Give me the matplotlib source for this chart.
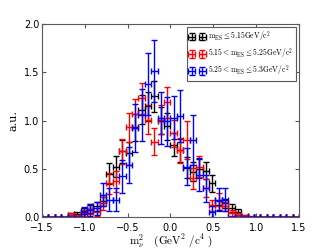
import numpy as np
import matplotlib
matplotlib.use("Agg")
import matplotlib.pyplot as plt

plt.rcParams['mathtext.fontset'] = 'cm'
plt.rcParams['xtick.direction'] = 'in'
plt.rcParams['ytick.direction'] = 'in'

# 40 bins from -1.5 to 1.5
edges = np.linspace(-1.5, 1.5, 41)
centers = 0.5 * (edges[:-1] + edges[1:])
half_width = 0.5 * (edges[1] - edges[0])

# m_ES <= 5.15
black_y = [0, 0, 0, 0, 0.02, 0.03, 0.06, 0.08, 0.11, 0.17,
           0.45, 0.52, 0.68, 0.66, 0.93, 1.11, 1.15, 1.25, 1.00, 0.94,
           0.75, 0.69, 0.51, 0.47, 0.50, 0.48, 0.35, 0.12, 0.14, 0.09,
           0.055, 0.01, 0, 0, 0, 0, 0, 0, 0, 0]
black_err = [0, 0, 0, 0, 0.02, 0.02, 0.03, 0.04, 0.05, 0.06,
             0.11, 0.11, 0.12, 0.12, 0.14, 0.15, 0.15, 0.16, 0.14, 0.14,
             0.12, 0.12, 0.11, 0.10, 0.10, 0.09, 0.09, 0.05, 0.05, 0.04,
             0.03, 0.01, 0, 0, 0, 0, 0, 0, 0, 0]

# 5.15 < m_ES <= 5.25
red_y = [0, 0, 0, 0, 0.02, 0.01, 0.04, 0.08, 0.055, 0.14,
         0.35, 0.37, 0.68, 0.93, 1.07, 1.23, 1.01, 0.78, 1.01, 1.19,
         0.87, 0.69, 0.80, 0.40, 0.52, 0.30, 0.12, 0.18, 0.11, 0.04,
         0.02, 0.015, 0.005, 0, 0, 0, 0, 0, 0, 0]
red_err = [0, 0, 0, 0, 0.02, 0.01, 0.03, 0.05, 0.04, 0.07,
           0.11, 0.11, 0.13, 0.15, 0.15, 0.16, 0.15, 0.14, 0.15, 0.16,
           0.14, 0.13, 0.20, 0.11, 0.11, 0.09, 0.06, 0.07, 0.05, 0.03,
           0.02, 0.01, 0.005, 0, 0, 0, 0, 0, 0, 0]

# 5.25 < m_ES <= 5.3
blue_y = [0, 0, 0, 0, 0, 0, 0.055, 0.07, 0.09, 0.23,
          0.18, 0.18, 0.42, 0.54, 0.92, 1.06, 1.375, 1.51, 1.03, 0.99,
          1.03, 1.05, 0.52, 0.80, 0.44, 0.30, 0.055, 0.18, 0.18, 0,
          0, 0, 0, 0, 0, 0, 0, 0, 0, 0]
blue_err = [0, 0, 0, 0, 0, 0, 0.05, 0.06, 0.07, 0.12,
            0.12, 0.12, 0.17, 0.19, 0.25, 0.27, 0.32, 0.32, 0.27, 0.25,
            0.22, 0.27, 0.19, 0.26, 0.17, 0.14, 0.06, 0.12, 0.12, 0,
            0, 0, 0, 0, 0, 0, 0, 0, 0, 0]

labels = [r'$\mathrm{m_{ES}} \leq 5.15\mathrm{GeV/c^2}$',
          r'$5.15 < \mathrm{m_{ES}} \leq 5.25\mathrm{GeV/c^2}$',
          r'$5.25 < \mathrm{m_{ES}} \leq 5.3\mathrm{GeV/c^2}$']

fig = plt.figure(figsize=(3.32, 2.49), dpi=100)
ax = fig.add_axes([0.1265, 0.1285, 0.7741, 0.7751])

for y, e, c, lab in [(black_y, black_err, 'k', labels[0]),
                     (red_y, red_err, 'r', labels[1]),
                     (blue_y, blue_err, 'b', labels[2])]:
    ax.errorbar(centers, y, yerr=e, xerr=half_width, fmt='none',
                ecolor=c, elinewidth=1, capsize=2, capthick=1, label=lab)

for sp in ax.spines.values():
    sp.set_color('0.35')

ax.set_xlim(-1.5, 1.5)
ax.set_ylim(0, 2.0)
ax.set_xticks(np.arange(-1.5, 1.51, 0.5))
ax.set_yticks(np.arange(0, 2.01, 0.5))
ax.tick_params(labelsize=7, top=True, right=True, length=3, color='0.35')
ax.tick_params(axis='x', pad=4)
ax.tick_params(axis='y', pad=2)
ax.set_ylabel('a.u.', fontsize=8, family='serif', labelpad=4)
ax.set_xlabel(r'$\mathrm{m}_{\nu}^{2}$   $(\mathrm{GeV}^{2}\ /\mathrm{c}^{4}\ )$',
              fontsize=8, labelpad=0)

leg = ax.legend(loc='upper right', fontsize=5.5, numpoints=2,
                fancybox=False, framealpha=1, edgecolor='0.35',
                handlelength=2.0, handletextpad=0.5,
                borderpad=0.3, labelspacing=0.3, borderaxespad=0.4)
leg.get_frame().set_linewidth(0.8)

fig.savefig('out.png', dpi=100)
